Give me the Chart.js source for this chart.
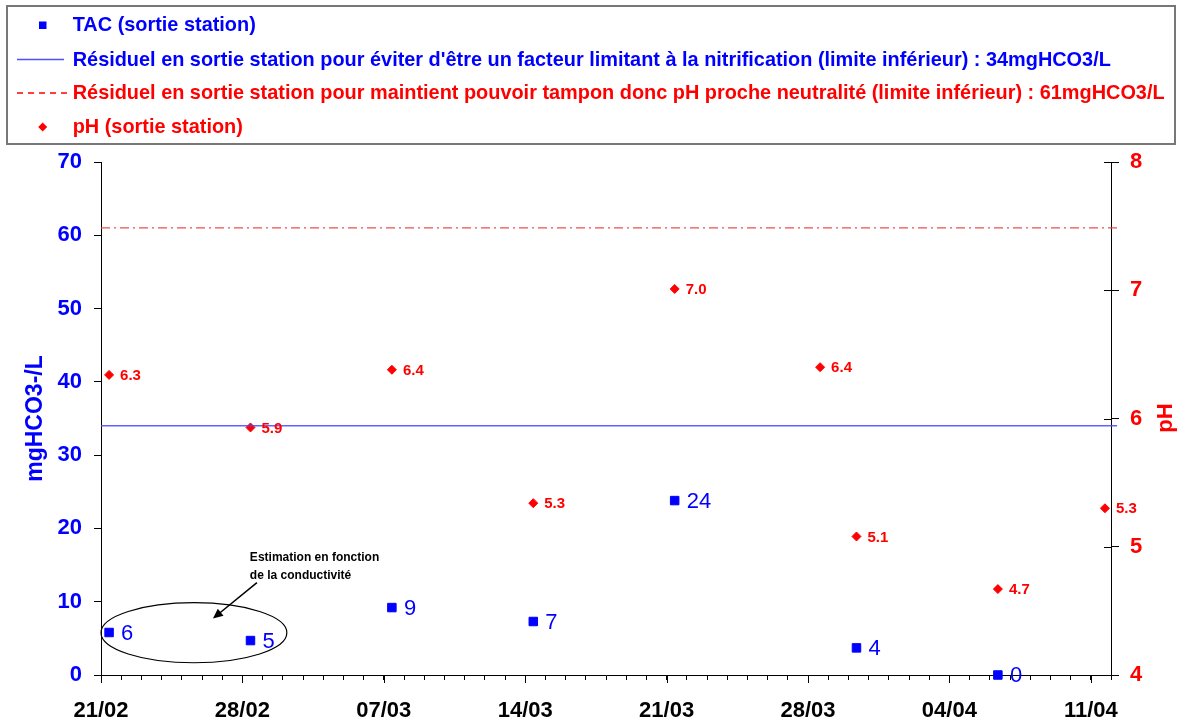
<!DOCTYPE html>
<html><head><meta charset="utf-8">
<script src="https://cdn.jsdelivr.net/npm/chart.js@4.4.1/dist/chart.umd.min.js"></script>
<style>html,body{margin:0;padding:0;background:#fff;} canvas{display:block;}</style>
</head><body>
<canvas id="c" width="1181" height="724"></canvas>
<script>
const FONT = '"Liberation Sans", Arial, Helvetica, sans-serif';

// ---- data ----
const tickLabels = ['21/02', '28/02', '07/03', '14/03', '21/03', '28/03', '04/04', '11/04'];
// days counted from 21/02
const tacDays   = [0.4, 7.4, 14.4, 21.4, 28.4, 37.4, 44.4];
const tacValues = [5.8, 4.7, 9.2, 7.3, 23.8, 3.7, 0];
const phDays    = [0.4, 7.4, 14.4, 21.4, 28.4, 35.6, 37.4, 44.4, 49.7];
const phValues  = [6.34, 5.93, 6.38, 5.34, 7.01, 6.40, 5.08, 4.67, 5.30];
const limitNitrif = 34;
const limitTampon = 61;
const limitSpan = [0, 50.3];

const seriesNames = [
  'TAC (sortie station)',
  "Résiduel en sortie station pour éviter d'être un facteur limitant à la nitrification (limite inférieur) : 34mgHCO3/L",
  'Résiduel en sortie station pour maintient pouvoir tampon donc pH proche neutralité (limite inférieur) : 61mgHCO3/L',
  'pH (sortie station)'
];
const noteLines = ['Estimation en fonction', 'de la conductivité'];
// annotation in data coordinates (days, mgHCO3/L)
const noteEllipse = {cx: 4.6, cy: 5.77, rx: 4.6, ry: 4.1};
const noteArrow = {x0: 7.72, y0: 12.6, x1: 5.54, y1: 7.7};
const noteText = {x: 7.37, y: 16.05, y2: 13.54};

const BLUE = '#0000ff', RED = '#ff0000';

const toPts = (xs, ys) => xs.map((x, i) => ({x, y: ys[i]}));

const customDraw = {
  id: 'customDraw',
  afterDatasetsDraw(chart) {
    const ctx = chart.ctx;
    ctx.save();
    // TAC labels
    const mT = chart.getDatasetMeta(0);
    ctx.font = '22px ' + FONT; ctx.fillStyle = BLUE; ctx.textAlign = 'left'; ctx.textBaseline = 'middle';
    mT.data.forEach((p, i) => ctx.fillText(String(Math.round(tacValues[i])), p.x + 12, p.y + 1));
    // pH labels
    const mP = chart.getDatasetMeta(3);
    ctx.font = 'bold 15px ' + FONT; ctx.fillStyle = RED;
    mP.data.forEach((p, i) => ctx.fillText(phValues[i].toFixed(1), p.x + 11, p.y + 1));
    ctx.restore();
  },
  afterDraw(chart) {
    const ctx = chart.ctx;
    const xs = chart.scales.x, ys = chart.scales.y, y1 = chart.scales.y1;
    const ca = chart.chartArea;
    ctx.save();
    // major x ticks (longer)
    ctx.strokeStyle = '#000'; ctx.lineWidth = 1;
    for (let d = 0; d <= 49; d += 7) {
      const px = Math.round(xs.getPixelForValue(d)) + 0.5;
      ctx.beginPath(); ctx.moveTo(px, ca.bottom); ctx.lineTo(px, ca.bottom + 8); ctx.stroke();
    }
    // inner part of right-axis ticks
    for (let v = 4; v <= 8; v++) {
      const py = Math.round(y1.getPixelForValue(v)) + 0.5;
      ctx.beginPath(); ctx.moveTo(ca.right - 7, py); ctx.lineTo(ca.right, py); ctx.stroke();
    }
    // right axis title
    ctx.save();
    ctx.translate(1166, 418); ctx.rotate(-Math.PI / 2);
    ctx.font = 'bold 22px ' + FONT; ctx.fillStyle = RED; ctx.textAlign = 'center'; ctx.textBaseline = 'middle';
    ctx.fillText('pH', 0, 0);
    ctx.restore();

    // annotation
    const ecx = xs.getPixelForValue(noteEllipse.cx), ecy = ys.getPixelForValue(noteEllipse.cy);
    const erx = xs.getPixelForValue(noteEllipse.cx + noteEllipse.rx) - ecx;
    const ery = ecy - ys.getPixelForValue(noteEllipse.cy + noteEllipse.ry);
    ctx.strokeStyle = '#000'; ctx.lineWidth = 1.2;
    ctx.beginPath(); ctx.ellipse(ecx, ecy, erx, ery, 0, 0, Math.PI * 2); ctx.stroke();
    const ax0 = xs.getPixelForValue(noteArrow.x0), ay0 = ys.getPixelForValue(noteArrow.y0);
    const ax1 = xs.getPixelForValue(noteArrow.x1), ay1 = ys.getPixelForValue(noteArrow.y1);
    const ang = Math.atan2(ay1 - ay0, ax1 - ax0);
    ctx.lineWidth = 1.5;
    ctx.beginPath(); ctx.moveTo(ax0, ay0); ctx.lineTo(ax1 - 6 * Math.cos(ang), ay1 - 6 * Math.sin(ang)); ctx.stroke();
    ctx.fillStyle = '#000';
    ctx.beginPath();
    ctx.moveTo(ax1, ay1);
    ctx.lineTo(ax1 - 10 * Math.cos(ang) + 4.5 * Math.sin(ang), ay1 - 10 * Math.sin(ang) - 4.5 * Math.cos(ang));
    ctx.lineTo(ax1 - 10 * Math.cos(ang) - 4.5 * Math.sin(ang), ay1 - 10 * Math.sin(ang) + 4.5 * Math.cos(ang));
    ctx.closePath(); ctx.fill();
    ctx.font = 'bold 12px ' + FONT; ctx.textAlign = 'left'; ctx.textBaseline = 'middle';
    const tx = xs.getPixelForValue(noteText.x);
    ctx.fillText(noteLines[0], tx, ys.getPixelForValue(noteText.y));
    ctx.fillText(noteLines[1], tx, ys.getPixelForValue(noteText.y2));

    // legend box
    ctx.strokeStyle = '#777'; ctx.lineWidth = 2;
    ctx.strokeRect(7, 6, 1168, 138);
    const rows = [25, 59.5, 93, 127];
    const colors = [BLUE, BLUE, RED, RED];
    // markers
    ctx.fillStyle = BLUE; ctx.fillRect(39, rows[0] - 3.5, 7.5, 7.5);
    ctx.strokeStyle = 'rgba(60,60,255,0.9)'; ctx.lineWidth = 1.5;
    ctx.beginPath(); ctx.moveTo(17, rows[1]); ctx.lineTo(64, rows[1]); ctx.stroke();
    ctx.strokeStyle = RED; ctx.lineWidth = 1.6; ctx.setLineDash([6, 5]);
    ctx.beginPath(); ctx.moveTo(17, rows[2]); ctx.lineTo(68, rows[2]); ctx.stroke();
    ctx.setLineDash([]);
    ctx.fillStyle = RED;
    ctx.beginPath(); ctx.moveTo(42.7, rows[3] - 4.5); ctx.lineTo(47.2, rows[3]); ctx.lineTo(42.7, rows[3] + 4.5); ctx.lineTo(38.2, rows[3]); ctx.closePath(); ctx.fill();
    ctx.font = 'bold 19.9px ' + FONT; ctx.textAlign = 'left'; ctx.textBaseline = 'middle';
    seriesNames.forEach((t, i) => { ctx.fillStyle = colors[i]; ctx.fillText(t, 72.7, Math.round(rows[i]) + 1); });
    ctx.restore();
  }
};

new Chart(document.getElementById('c'), {
  type: 'scatter',
  data: {
    datasets: [
      {
        label: seriesNames[0], data: toPts(tacDays, tacValues), yAxisID: 'y',
        pointStyle: 'rect', pointRadius: 6, pointBorderWidth: 1,
        backgroundColor: BLUE, borderColor: BLUE, showLine: false, clip: false
      },
      {
        label: seriesNames[1], data: toPts(limitSpan, [limitNitrif, limitNitrif]), yAxisID: 'y',
        showLine: true, pointRadius: 0, borderColor: 'rgba(70,70,255,0.85)', borderWidth: 1.5, clip: false
      },
      {
        label: seriesNames[2], data: toPts(limitSpan, [limitTampon, limitTampon]), yAxisID: 'y',
        showLine: true, pointRadius: 0, borderColor: 'rgba(230,60,60,0.9)', borderWidth: 1.2,
        borderDash: [9, 4, 2, 4], clip: false
      },
      {
        label: seriesNames[3], data: toPts(phDays, phValues), yAxisID: 'y1',
        pointStyle: 'rectRot', pointRadius: 4.5, pointBorderWidth: 1,
        backgroundColor: RED, borderColor: RED, showLine: false, clip: false
      }
    ]
  },
  options: {
    responsive: false, animation: false, devicePixelRatio: 1,
    layout: {padding: {top: 162, left: 0, right: 0, bottom: 0}},
    plugins: {legend: {display: false}, tooltip: {enabled: false}},
    scales: {
      x: {
        type: 'linear', position: 'bottom', min: 0, max: 50,
        afterBuildTicks: (s) => { const t = []; for (let d = 0; d <= 50; d++) t.push({value: d}); s.ticks = t; },
        afterFit: (s) => { s.height = 49; },
        ticks: {
          autoSkip: false, maxRotation: 0, minRotation: 0, padding: 18, color: '#000',
          font: {family: FONT, size: 22, weight: 'bold'},
          callback: (v) => (v % 7 === 0 && v / 7 < tickLabels.length) ? tickLabels[v / 7] : ''
        },
        grid: {drawOnChartArea: false, tickLength: 5, color: '#000'},
        border: {color: '#000', width: 1}
      },
      y: {
        type: 'linear', position: 'left', min: 0, max: 70,
        afterFit: (s) => { s.width = 101; },
        ticks: {stepSize: 10, padding: 12, color: BLUE, font: {family: FONT, size: 22, weight: 'bold'}},
        grid: {drawOnChartArea: false, tickLength: 7, color: '#000'},
        border: {color: '#000', width: 1},
        title: {display: true, text: 'mgHCO3-/L', color: BLUE, font: {family: FONT, size: 23, weight: 'bold'}, padding: {top: 22, bottom: 0}}
      },
      y1: {
        type: 'linear', position: 'right', min: 4, max: 8,
        afterFit: (s) => { s.width = 70; },
        ticks: {stepSize: 1, padding: 11, color: RED, font: {family: FONT, size: 22, weight: 'bold'}},
        grid: {drawOnChartArea: false, tickLength: 8, color: '#000'},
        border: {color: '#000', width: 1}
      }
    }
  },
  plugins: [customDraw]
});
</script>
</body></html>
